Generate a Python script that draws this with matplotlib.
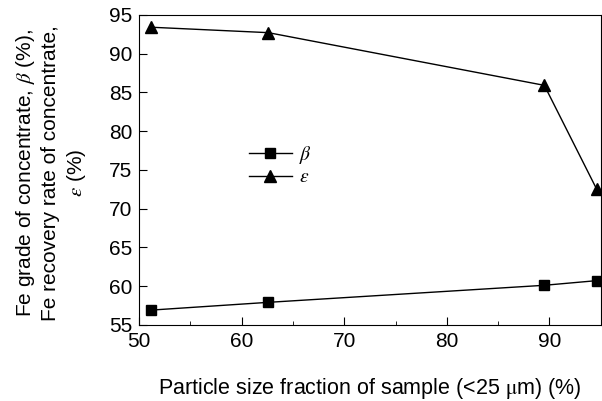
import matplotlib
matplotlib.use("Agg")
import matplotlib.pyplot as plt
from matplotlib.ticker import MultipleLocator

plt.rcParams['font.family'] = ['Liberation Sans', 'DejaVu Sans']
plt.rcParams['mathtext.fontset'] = 'stix'

x = [51.2, 62.6, 89.5, 94.6]
beta = [56.9, 57.9, 60.1, 60.7]
eps = [93.4, 92.7, 85.9, 72.5]

fig = plt.figure(figsize=(6.02, 4.01), dpi=100)
ax = fig.add_axes([0.231, 0.19, 0.767, 0.773])

ax.plot(x, beta, color='black', lw=1, marker='s', ms=7, label=r'$\beta$')
ax.plot(x, eps, color='black', lw=1, marker='^', ms=9, label=r'$\varepsilon$')

ax.set_xlim(50, 95)
ax.set_ylim(55, 95)
ax.xaxis.set_major_locator(MultipleLocator(10))
ax.xaxis.set_minor_locator(MultipleLocator(5))
ax.yaxis.set_major_locator(MultipleLocator(5))
ax.tick_params(which='both', direction='in', labelsize=15, top=False, right=False)
ax.tick_params(which='major', length=6, pad=5)
ax.tick_params(which='minor', length=3)

ax.set_xlabel(r'Particle size fraction of sample (<25 $\mathrm{\mu}$m) (%)', fontsize=15.5, labelpad=18)
ax.set_ylabel('Fe grade of concentrate, $\\beta$ (%),\nFe recovery rate of concentrate,\n$\\varepsilon$ (%)',
              fontsize=15, linespacing=1.3)
ax.yaxis.set_label_coords(-0.11, 0.49)

ax.legend(loc='upper left', bbox_to_anchor=(0.2, 0.64), frameon=False, fontsize=14,
          handlelength=2.2, handletextpad=0.4, labelspacing=0.15)

fig.savefig('out.png', dpi=100)
